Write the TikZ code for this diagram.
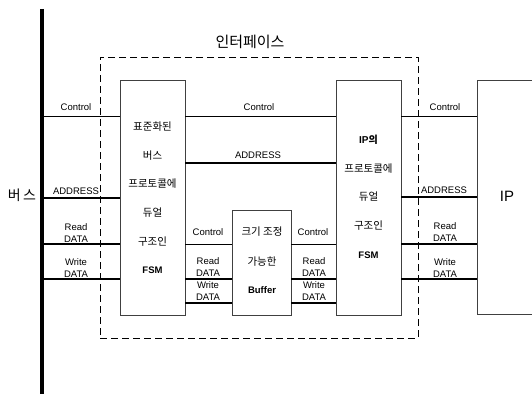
\documentclass[tikz,border=0pt]{standalone}
\usepackage{fontspec}
\setmainfont{Liberation Sans}
\newfontfamily\kr{Noto Sans CJK KR}
\begin{document}
\begin{tikzpicture}[x=1pt,y=-1pt,
  box/.style={draw=black!75, line width=0.8pt, inner sep=0pt},
  thinline/.style={line width=1pt},
  thickline/.style={line width=2.4pt},
  lbl/.style={font=\fontsize{9.5}{11.5}\selectfont, align=center, inner sep=0pt},
  krt/.style={font=\kr\fontsize{10.5}{12}\selectfont, inner sep=0pt},
  bld/.style={font=\bfseries\fontsize{9.5}{11.5}\selectfont, inner sep=0pt},
]
\useasboundingbox (0,0) rectangle (532,393);
% boxes
\node[box, minimum width=65pt, minimum height=235pt] (lfsm) at (152.5,197.5) {};
\node[box, minimum width=65pt, minimum height=235pt] (rfsm) at (368.5,197.5) {};
\node[box, minimum width=59pt, minimum height=105pt] (buf) at (261.5,262.5) {};
\node[box, minimum width=70pt, minimum height=234pt] (ip) at (512,197) {};
\node[draw, line width=0.9pt, dash pattern=on 7pt off 4pt, minimum width=318pt, minimum height=281pt, inner sep=0pt] (iface) at (259,197.5) {};
% bus
\coordinate (busT) at (42,9);
\coordinate (busB) at (42,396);
\draw[line width=3.5pt] (busT) -- (busB);
% titles
\node[font=\kr\fontsize{15}{17}\selectfont, inner sep=0pt] (ttl) at (250,42) {인터페이스};
\node[font=\kr\fontsize{14}{16}\selectfont, inner sep=0pt] (buslbl) at (22,195) {버\,스};
% left FSM text
\node[krt] (l1) at (152.5,127) {표준화된};
\node[krt] (l2) at (152.5,156) {버스};
\node[krt] (l3) at (152.5,184) {프로토콜에};
\node[krt] (l4) at (152.5,213) {듀얼};
\node[krt] (l5) at (152.5,242) {구조인};
\node[bld] (l6) at (152.5,270) {FSM};
% right FSM text
\node[inner sep=0pt, font=\bfseries\fontsize{10}{12}\selectfont] (r1) at (368.5,140) {IP{\kr 의}};
\node[krt] (r2) at (368.5,169) {프로토콜에};
\node[krt] (r3) at (368.5,197) {듀얼};
\node[krt] (r4) at (368.5,226) {구조인};
\node[bld] (r5) at (368.5,255) {FSM};
% buffer text
\node[krt] (b1) at (262,232) {크기 조정};
\node[krt] (b2) at (262,262) {가능한};
\node[bld] (b3) at (262,290) {Buffer};
% IP text
\node[inner sep=0pt, font=\fontsize{15}{17}\selectfont] (iptxt) at (507,196) {IP};
% left connectors
\draw[thinline] (busT |- 0,116) -- (lfsm.west |- 0,116);
\draw[thickline] (busT |- 0,198) -- (lfsm.west |- 0,198);
\draw[thickline] (busT |- 0,244) -- (lfsm.west |- 0,244);
\draw[thickline] (busT |- 0,279) -- (lfsm.west |- 0,279);
\node[lbl] (lc) at (76,107) {Control};
\node[lbl] (la) at (76,191) {ADDRESS};
\node[lbl] (lr) at (76,233) {Read\\DATA};
\node[lbl] (lw) at (76,268) {Write\\DATA};
% middle connectors between FSMs
\draw[thinline] (lfsm.east |- 0,116) -- (rfsm.west |- 0,116);
\draw[thickline] (lfsm.east |- 0,163) -- (rfsm.west |- 0,163);
\node[lbl] (mc) at (259,107) {Control};
\node[lbl] (ma) at (258,155) {ADDRESS};
% right connectors
\draw[thinline] (rfsm.east |- 0,116) -- (ip.west |- 0,116);
\draw[thickline] (rfsm.east |- 0,197) -- (ip.west |- 0,197);
\draw[thickline] (rfsm.east |- 0,244) -- (ip.west |- 0,244);
\draw[thickline] (rfsm.east |- 0,279) -- (ip.west |- 0,279);
\node[lbl] (rc) at (445,107) {Control};
\node[lbl] (ra) at (444,190) {ADDRESS};
\node[lbl] (rr) at (445,232) {Read\\DATA};
\node[lbl] (rw) at (445,268) {Write\\DATA};
% left FSM to buffer
\draw[thinline] (lfsm.east |- 0,244) -- (buf.west |- 0,244);
\draw[thickline] (lfsm.east |- 0,279) -- (buf.west |- 0,279);
\draw[thickline] (lfsm.east |- 0,303) -- (buf.west |- 0,303);
\node[lbl] (blc) at (208,232) {Control};
\node[lbl] (blr) at (208,267) {Read\\DATA};
\node[lbl] (blw) at (208,291) {Write\\DATA};
% buffer to right FSM
\draw[thinline] (buf.east |- 0,244) -- (rfsm.west |- 0,244);
\draw[thickline] (buf.east |- 0,279) -- (rfsm.west |- 0,279);
\draw[thickline] (buf.east |- 0,303) -- (rfsm.west |- 0,303);
\node[lbl] (brc) at (313,232) {Control};
\node[lbl] (brr) at (314,267) {Read\\DATA};
\node[lbl] (brw) at (314,291) {Write\\DATA};
\end{tikzpicture}
\end{document}
